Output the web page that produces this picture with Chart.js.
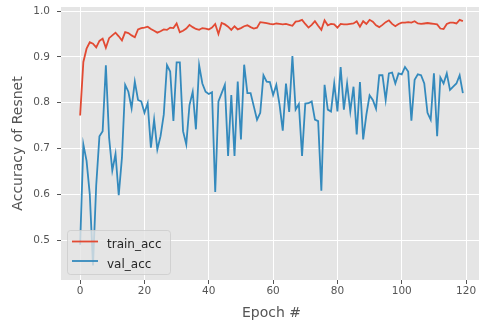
<!DOCTYPE html>
<html>
<head>
<meta charset="utf-8">
<script src="https://cdn.jsdelivr.net/npm/chart.js@4/dist/chart.umd.min.js"></script>
<style>
  html, body { margin: 0; padding: 0; background: #fff; overflow: hidden; width: 479px; height: 322px; }
  #wrap { width: 482px; height: 322px; }
</style>
</head>
<body>
<div id="wrap"><canvas id="myChart1" width="482" height="322"></canvas></div>
<script>
// values, one per epoch (0..119)
const epochs = Array.from({ length: 120 }, (_, i) => i);

const trainAcc = [
  0.772, 0.889, 0.918, 0.932, 0.929, 0.921, 0.935, 0.940, 0.920, 0.941,
  0.947, 0.953, 0.945, 0.936, 0.954, 0.952, 0.947, 0.943, 0.960, 0.963,
  0.964, 0.966, 0.961, 0.957, 0.953, 0.956, 0.960, 0.959, 0.964, 0.963,
  0.973, 0.954, 0.957, 0.962, 0.970, 0.965, 0.961, 0.959, 0.963, 0.962,
  0.960, 0.964, 0.972, 0.950, 0.974, 0.971, 0.966, 0.959, 0.967, 0.960,
  0.963, 0.967, 0.969, 0.965, 0.962, 0.964, 0.976, 0.975, 0.974, 0.972,
  0.971, 0.973, 0.972, 0.971, 0.972, 0.970, 0.968, 0.977, 0.978, 0.981,
  0.972, 0.964, 0.970, 0.978, 0.968, 0.959, 0.980, 0.969, 0.972, 0.971,
  0.964, 0.972, 0.971, 0.971, 0.972, 0.973, 0.978, 0.966, 0.978, 0.972,
  0.981, 0.977, 0.969, 0.965, 0.970, 0.976, 0.980, 0.972, 0.967, 0.972,
  0.975, 0.975, 0.976, 0.975, 0.978, 0.973, 0.972, 0.973, 0.974, 0.973,
  0.972, 0.971, 0.962, 0.961, 0.972, 0.975, 0.975, 0.973, 0.981, 0.978
];

const valAcc = [
  0.490, 0.709, 0.673, 0.600, 0.445, 0.620, 0.727, 0.738, 0.882, 0.724,
  0.652, 0.688, 0.598, 0.680, 0.839, 0.824, 0.788, 0.846, 0.806, 0.803,
  0.778, 0.799, 0.702, 0.763, 0.698, 0.727, 0.774, 0.882, 0.868, 0.760,
  0.888, 0.888, 0.738, 0.709, 0.795, 0.824, 0.742, 0.882, 0.842, 0.824,
  0.819, 0.823, 0.605, 0.803, 0.821, 0.839, 0.684, 0.817, 0.684, 0.846,
  0.720, 0.883, 0.821, 0.821, 0.792, 0.763, 0.778, 0.860, 0.846, 0.845,
  0.817, 0.839, 0.796, 0.739, 0.842, 0.780, 0.902, 0.785, 0.797, 0.684,
  0.798, 0.799, 0.803, 0.763, 0.760, 0.608, 0.839, 0.785, 0.781, 0.842,
  0.781, 0.878, 0.785, 0.842, 0.781, 0.835, 0.731, 0.845, 0.720, 0.774,
  0.816, 0.806, 0.787, 0.860, 0.860, 0.806, 0.864, 0.866, 0.842, 0.864,
  0.862, 0.878, 0.868, 0.761, 0.850, 0.862, 0.860, 0.842, 0.778, 0.763,
  0.864, 0.727, 0.855, 0.842, 0.864, 0.828, 0.835, 0.842, 0.860, 0.821
];

const seriesNames = ['train_acc', 'val_acc'];
const xTicks = [0, 20, 40, 60, 80, 100, 120];
const yTicks = [0.5, 0.6, 0.7, 0.8, 0.9, 1.0];

const ctx = document.getElementById('myChart1');

// grey panel behind the plot (ggplot look)
const panelBg = {
  id: 'panelBg',
  beforeDraw(chart) {
    const a = chart.chartArea;
    const c = chart.ctx;
    c.save();
    c.fillStyle = '#E5E5E5';
    c.fillRect(a.left, a.top, a.right - a.left, a.bottom - a.top);
    c.restore();
  }
};

// legend box in the lower left corner, like matplotlib's
const legendBox = {
  id: 'legendBox',
  afterDatasetsDraw(chart) {
    const c = chart.ctx;
    c.save();
    c.beginPath();
    c.roundRect(67.5, 230.5, 103, 44, 3);
    c.fillStyle = 'rgba(229,229,229,0.8)';
    c.fill();
    c.strokeStyle = 'rgba(204,204,204,0.8)';
    c.lineWidth = 1;
    c.stroke();
    chart.data.datasets.forEach(function (ds, i) {
      const cy = 241.5 + i * 19.5;
      c.beginPath();
      c.moveTo(72, cy);
      c.lineTo(98, cy);
      c.strokeStyle = ds.borderColor;
      c.lineWidth = 1.8;
      c.stroke();
      c.fillStyle = '#262626';
      c.font = '12px "DejaVu Sans"';
      c.textBaseline = 'alphabetic';
      c.fillText(ds.label, 107, cy + 6.5);
    });
    c.restore();
  }
};

const myChart1 = new Chart(ctx, {
  type: 'line',
  data: {
    datasets: [{
      label: seriesNames[0],
      data: trainAcc.map((v, i) => ({ x: epochs[i], y: v })),
      borderColor: '#E24A33',
      borderWidth: 1.8,
      pointRadius: 0,
      tension: 0,
      fill: false
    }, {
      label: seriesNames[1],
      data: valAcc.map((v, i) => ({ x: epochs[i], y: v })),
      borderColor: '#348ABD',
      borderWidth: 1.8,
      pointRadius: 0,
      tension: 0,
      fill: false
    }]
  },
  options: {
    responsive: false,
    animation: false,
    layout: { padding: { top: 7, left: 0, right: 0, bottom: 0 } },
    plugins: {
      legend: { display: false },
      tooltip: { enabled: false }
    },
    scales: {
      x: {
        type: 'linear',
        min: -5.95,
        max: 124.95,
        afterBuildTicks: s => { s.ticks = xTicks.map(v => ({ value: v })); },
        afterFit: s => { s.height = 42; s.paddingLeft = 0; s.paddingRight = 0; },
        grid: { color: '#ffffff', lineWidth: 1, tickColor: '#555555', tickLength: 4 },
        border: { display: false },
        ticks: {
          color: '#555555',
          font: { family: 'DejaVu Sans', size: 10.5 },
          padding: 1,
          maxRotation: 0
        },
        title: {
          display: true,
          text: 'Epoch #',
          color: '#555555',
          font: { family: 'DejaVu Sans', size: 14 },
          padding: { top: 0, bottom: 0 }
        }
      },
      y: {
        min: 0.413,
        max: 1.009,
        afterBuildTicks: s => { s.ticks = yTicks.map(v => ({ value: v })); },
        afterFit: s => { s.width = 61; s.paddingTop = 0; s.paddingBottom = 0; },
        grid: { color: '#ffffff', lineWidth: 1, tickColor: '#555555', tickLength: 4 },
        border: { display: false },
        ticks: {
          color: '#555555',
          font: { family: 'DejaVu Sans', size: 10.5 },
          padding: 7,
          callback: v => v.toFixed(1)
        },
        title: {
          display: true,
          text: 'Accuracy of Resnet',
          color: '#555555',
          font: { family: 'DejaVu Sans', size: 14 },
          padding: { top: 9.5, bottom: 0 }
        }
      }
    }
  },
  plugins: [panelBg, legendBox]
});
</script>
</body>
</html>
